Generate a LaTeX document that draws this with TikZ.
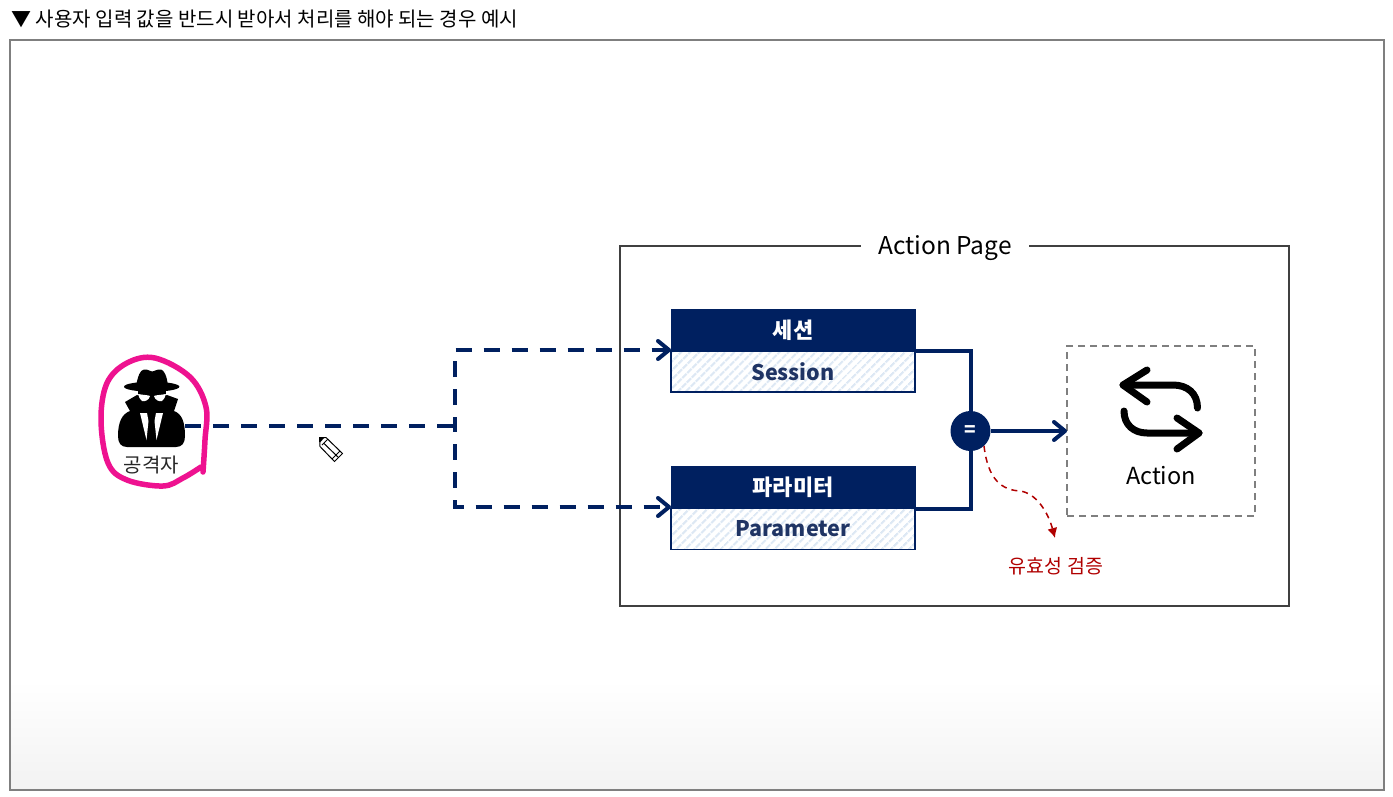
\documentclass[tikz,border=0pt]{standalone}
\usepackage{fontspec}
\setmainfont{Noto Sans CJK KR}
\usetikzlibrary{arrows.meta,patterns.meta}
\definecolor{navy}{HTML}{002060}
\definecolor{navytext}{HTML}{1F3464}
\definecolor{hatch}{HTML}{DDE8F4}
\definecolor{frame}{HTML}{7F7F7F}
\definecolor{marker}{HTML}{EE1290}
\definecolor{redpen}{HTML}{B00000}
\tikzset{
	headbox/.style={fill=navy,draw=navy,text=white,font=\fontsize{22}{26}\selectfont\bfseries,minimum width=244pt,minimum height=42pt,inner sep=0pt,outer sep=0pt},
	bodybox/.style={draw=navy,line width=1.5pt,pattern={Lines[angle=45,distance=6.5pt,line width=2.5pt]},pattern color=hatch,text=navytext,font=\fontsize{21.5}{26}\selectfont\bfseries,minimum width=244pt,minimum height=41pt,inner sep=0pt,outer sep=0pt},
	dashline/.style={navy,line width=4pt,dash pattern=on 16pt off 12pt},
	navyline/.style={navy,line width=4pt},
	barb/.style={-{Straight Barb[length=11pt,width=18pt,line width=4pt,round]}},
	iconline/.style={black,line width=7pt,line cap=round,line join=round}
}
\begin{document}
\begin{tikzpicture}[x=1pt,y=-1pt]
\useasboundingbox (0,0) rectangle (1393,796);
\shade[top color=white,bottom color=black!5] (10,680) rectangle (1384,790);
\draw[frame,line width=2pt] (10,40) rectangle (1384,790);
\draw (8,19) node (title) [anchor=west,font=\fontsize{20}{24}\selectfont] {▼ 사용자 입력 값을 반드시 받아서 처리를 해야 되는 경우 예시};
\draw[black!75,line width=1.5pt] (620,246) rectangle (1289,606);
\draw (945,248) node (page) [fill=white,inner xsep=17pt,inner ysep=2pt,font=\fontsize{24.5}{29}\selectfont] {Action Page};

\draw (793,330) node (sessionhead) [headbox] {세션};
\draw (793,371.5) node (sessionbody) [bodybox] {Session};
\draw (793,487.5) node (paramhead) [headbox] {파라미터};
\draw (793,529) node (parambody) [bodybox] {Parameter};
\draw (1161,431) node (actionbox) [draw=frame,line width=1.5pt,dash pattern=on 7pt off 5pt,minimum width=188pt,minimum height=170pt,outer sep=0pt] {};
\draw (1161,476) node (action) [font=\fontsize{23.5}{28}\selectfont] {Action};
\draw (970.5,431) node (eq) [circle,fill=navy,text=white,minimum size=40pt,inner sep=0pt,font=\fontsize{19}{22}\selectfont\bfseries] {=};

\coordinate (spy) at (185,426);
\coordinate (branch) at (454.5,426);
\draw[dashline] (spy) -- (branch);
\draw[dashline,dash phase=7pt,barb] (branch) |- ([yshift=1pt]sessionhead.south west);
\draw[dashline,dash phase=10pt,barb] (branch) |- ([yshift=1.5pt]paramhead.south west);
\draw[navyline] (sessionhead.south east) -| (eq);
\draw[navyline] (paramhead.south east) -| (eq);
\draw[navyline,barb] (eq) -- (actionbox.west);

\coordinate (checkend) at (1055,538);
\draw[redpen,line width=1.5pt,dash pattern=on 6pt off 5pt,-{Latex[length=10pt,width=10pt]}] (eq.-48) .. controls (988,480) and (1002,490) .. (1020,491) .. controls (1036,493) and (1048,512) .. (checkend);
\draw (1056,566) node (check) [text=redpen,font=\fontsize{19.5}{23}\selectfont] {유효성 검증};

\draw[iconline] (1197.5,408) .. controls (1197.5,393) and (1187,385) .. (1173,385) -- (1123,385);
\draw[iconline] (1147,370) -- (1123,385) -- (1147,402);
\draw[iconline] (1124,411) .. controls (1124,425) and (1134,433) .. (1147,433) -- (1199,433);
\draw[iconline] (1177,418) -- (1199,433) -- (1177,449);

\draw[marker,line width=5.5pt,line cap=round,line join=round] plot[smooth,tension=0.6] coordinates {(203,472) (205,440) (206,407) (190,377) (155,358) (127,363) (107,383) (101,420) (108,463) (127,480) (163,486) (183,478) (201,467)};
\fill[black] (151.7,386.7) ellipse (27.7 and 5);
\fill[black] (136,386) .. controls (138,376) and (140,370) .. (144,369.5) .. controls (148,369) and (150,371.5) .. (152,371.5) .. controls (154,371.5) and (157,369) .. (161,369.5) .. controls (164,370) and (167,376) .. (168,386) -- cycle;
\fill[black] (125,402) -- (137,395) -- (152,400) -- (167,395) -- (178,399) -- (174,411) .. controls (182,414) and (185,422) .. (185,436) .. controls (185,443) and (182,447) .. (176,447) -- (127,447) .. controls (121,447) and (118,443) .. (118,436) .. controls (118,422) and (122,414) .. (130,411) -- cycle;
\fill[black] (138,386) rectangle (166,402);
\fill[white] (138,394) .. controls (143,395) and (148,395) .. (150,396) .. controls (149,400) and (145,402) .. (142,401) .. controls (140,400) and (139,397) .. (138,394) -- cycle;
\fill[white] (166,394) .. controls (161,395) and (156,395) .. (154,396) .. controls (155,400) and (159,402) .. (162,401) .. controls (164,400) and (165,397) .. (166,394) -- cycle;
\fill[white] (140,413) -- (147,413) -- (148.5,421) -- (146.5,440) -- cycle;
\fill[white] (163,413) -- (156,413) -- (154.5,421) -- (156.5,440) -- cycle;
\draw (151.5,465) node (attacker) [font=\fontsize{20}{24}\selectfont,text=black!85] {공격자};

\draw[black,line width=1pt,line join=round] (319.5,437.5) -- (326,437.5) -- (342.5,453.5) -- (334.5,461.5) -- (320,446.5) -- cycle;
\fill[black] (319.5,437.5) -- (324.5,437.5) -- (320,442.5) -- cycle;
\draw[black,line width=1pt] (323.5,443) -- (338.5,457.5) (322,445) -- (328,439) (332,459) -- (340,451);
\end{tikzpicture}
\end{document}
